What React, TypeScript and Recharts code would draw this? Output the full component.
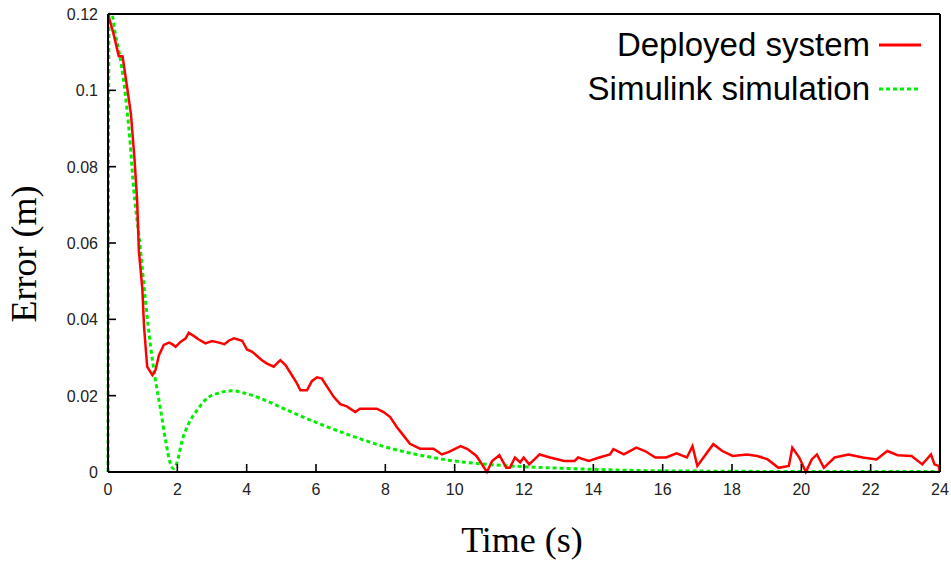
import { LineChart, Line, XAxis, YAxis } from "recharts";

const timeTicks = [0, 2, 4, 6, 8, 10, 12, 14, 16, 18, 20, 22, 24];
const errorTicks = [0, 0.02, 0.04, 0.06, 0.08, 0.1, 0.12];
const errorTickLabels = ["0", "0.02", "0.04", "0.06", "0.08", "0.1", "0.12"];
const seriesNames = ["Deployed system", "Simulink simulation"];
const seriesColors = ["#ff0000", "#00ee00"];

const deployedTime = [
  0, 0.16, 0.31, 0.42, 0.55, 0.66, 0.76, 0.84, 0.89, 0.99, 1.04, 1.13, 1.28, 1.37,
  1.47, 1.61, 1.76, 1.85, 1.95, 2.09, 2.24, 2.33, 2.48, 2.62, 2.81, 3.0, 3.2, 3.36,
  3.48, 3.63, 3.87, 4.01, 4.16, 4.3, 4.44, 4.59, 4.78, 4.97, 5.12, 5.26, 5.45, 5.55,
  5.74, 5.88, 6.03, 6.17, 6.31, 6.51, 6.7, 6.89, 7.13, 7.27, 7.47, 7.75, 7.95, 8.14,
  8.33, 8.52, 8.71, 9.0, 9.39, 9.63, 9.82, 10.17, 10.37, 10.63, 10.93, 11.08, 11.29,
  11.49, 11.59, 11.74, 11.89, 11.99, 12.15, 12.45, 12.75, 13.16, 13.46, 13.56, 13.87,
  14.17, 14.48, 14.58, 14.88, 15.24, 15.49, 15.79, 16.1, 16.4, 16.7, 16.86, 17.0,
  17.21, 17.46, 17.72, 18.02, 18.43, 18.73, 19.03, 19.34, 19.64, 19.74, 19.94, 20.13,
  20.3, 20.45, 20.65, 20.96, 21.36, 21.77, 22.17, 22.48, 22.78, 23.18, 23.49, 23.74,
  23.84, 23.96, 24,
];
const deployedError = [
  0.12, 0.1148, 0.109, 0.1089, 0.1009, 0.0939, 0.0826, 0.0713, 0.058, 0.048, 0.038,
  0.0276, 0.0254, 0.0267, 0.0306, 0.0333, 0.0339, 0.0335, 0.0328, 0.0341, 0.035,
  0.0365, 0.0356, 0.0347, 0.0337, 0.0343, 0.0339, 0.0335, 0.0344, 0.035, 0.0344,
  0.0321, 0.0315, 0.0304, 0.0293, 0.0284, 0.0276, 0.0293, 0.028, 0.026, 0.0232,
  0.0214, 0.0214, 0.0238, 0.0248, 0.0245, 0.0225, 0.0197, 0.0178, 0.0172, 0.0157,
  0.0166, 0.0166, 0.0166, 0.0157, 0.0144, 0.0118, 0.0096, 0.0074, 0.0061, 0.0061,
  0.0046, 0.0052, 0.0068, 0.006, 0.0042, 0.0, 0.0029, 0.0044, 0.0011, 0.0011, 0.0038,
  0.0025, 0.0038, 0.002, 0.0046, 0.0038, 0.0029, 0.0029, 0.0038, 0.0029, 0.0038,
  0.0046, 0.006, 0.0046, 0.0064, 0.0055, 0.0038, 0.0038, 0.0049, 0.0038, 0.0068,
  0.0016, 0.0042, 0.0073, 0.0055, 0.0042, 0.0046, 0.0042, 0.0033, 0.0011, 0.0016,
  0.0064, 0.0038, 0.0, 0.0033, 0.0046, 0.0011, 0.0038, 0.0046, 0.0038, 0.0033,
  0.0055, 0.0044, 0.0042, 0.002, 0.0046, 0.002, 0.0016, 0.0,
];

const simTime = [
  0, 0.03, 0.12, 0.21, 0.33, 0.45, 0.55, 0.64, 0.72, 0.94, 1.08, 1.23, 1.37, 1.52,
  1.66, 1.8, 1.88, 1.98, 2.14, 2.33, 2.57, 2.86, 3.2, 3.58, 3.92, 4.4, 5.07, 6.03,
  6.99, 7.95, 8.9, 9.82, 10.93, 12, 14, 16, 18, 20, 22, 24,
];
const simError = [
  0, 0.12, 0.1196, 0.1148, 0.1096, 0.1026, 0.0948, 0.0861, 0.0765, 0.058, 0.045,
  0.0328, 0.024, 0.0162, 0.0083, 0.0022, 0.0009, 0.0022, 0.0083, 0.0127, 0.0162,
  0.0193, 0.0207, 0.0213, 0.0207, 0.0193, 0.0166, 0.0129, 0.0096, 0.0067, 0.0046,
  0.0031, 0.002, 0.0014, 0.0007, 0.0003, 0.0002, 0.0001, 0.0001, 0.0001,
];

const deployed = deployedTime.map((t, i) => ({ t, v: deployedError[i] }));
const simulation = simTime.map((t, i) => ({ t, v: simError[i] }));

const TICK_LEN = 8;
const TICK_W = 1.6;
const labelFont = "Liberation Sans, Arial, sans-serif";
const titleFont = "Liberation Serif, Times New Roman, serif";
const frame = { stroke: "#000", strokeWidth: 2 };

const errorLabel = (v: number) => {
  const idx = errorTicks.indexOf(v);
  return idx >= 0 ? errorTickLabels[idx] : String(v);
};

// gnuplot draws the tick marks inward, labels stay outside the frame
const BottomTick = ({ x, y, payload }: any) => (
  <g>
    <rect x={x - TICK_W / 2} y={y - TICK_LEN} width={TICK_W} height={TICK_LEN} fill="#000" />
    <text x={x} y={y + 23} textAnchor="middle" fontFamily={labelFont} fontSize={16} fill="#222">
      {payload.value}
    </text>
  </g>
);

const TopTick = ({ x, y }: any) => (
  <rect x={x - TICK_W / 2} y={y} width={TICK_W} height={TICK_LEN} fill="#000" />
);

const LeftTick = ({ x, y, payload }: any) => (
  <g>
    <rect x={x} y={y - TICK_W / 2} width={TICK_LEN} height={TICK_W} fill="#000" />
    <text x={x - 10} y={y + 6} textAnchor="end" fontFamily={labelFont} fontSize={16} fill="#222">
      {errorLabel(payload.value)}
    </text>
  </g>
);

const RightTick = ({ x, y }: any) => (
  <rect x={x - TICK_LEN} y={y - TICK_W / 2} width={TICK_LEN} height={TICK_W} fill="#000" />
);

const YTitle = ({ viewBox }: any) => {
  const cx = viewBox.x + 36;
  const cy = viewBox.y + viewBox.height / 2 + 11;
  return (
    <text x={cx} y={cy} transform={`rotate(-90 ${cx} ${cy})`} textAnchor="middle"
      fontFamily={titleFont} fontSize={36} fill="#000">
      Error (m)
    </text>
  );
};

const XTitle = ({ viewBox }: any) => (
  <text x={viewBox.x + viewBox.width / 2 - 2} y={viewBox.y + 80} textAnchor="middle"
    fontFamily={titleFont} fontSize={36} fill="#000">
    Time (s)
  </text>
);

// key in the top right corner of the plot
const KeyBox = ({ viewBox }: any) => {
  const right = viewBox.x + viewBox.width;
  return (
    <g>
      {seriesNames.map((name, i) => (
        <g key={name}>
          <text x={right - 70} y={viewBox.y + 43 + i * 44} textAnchor="end"
            fontFamily={labelFont} fontSize={33} fill="#000">
            {name}
          </text>
          <line x1={right - 61} x2={right - 19} y1={viewBox.y + 32 + i * 44} y2={viewBox.y + 32 + i * 44}
            stroke={seriesColors[i]} strokeWidth={3} strokeDasharray={i === 1 ? "4 3" : undefined} />
        </g>
      ))}
    </g>
  );
};

export default function App() {
  return (
    <div style={{ position: "absolute", left: 0, top: 0, background: "#fff" }}>
      <LineChart width={951} height={562} margin={{ top: 13, right: 10, bottom: 0, left: 0 }}>
        <XAxis
          dataKey="t"
          type="number"
          domain={[0, 24]}
          ticks={timeTicks}
          height={90}
          tickSize={0}
          tickMargin={0}
          tickLine={false}
          tick={<BottomTick />}
          stroke="#000"
          axisLine={frame}
          label={<XTitle />}
        />
        <XAxis
          xAxisId="top"
          orientation="top"
          dataKey="t"
          type="number"
          domain={[0, 24]}
          ticks={timeTicks}
          height={1}
          tickSize={0}
          tickMargin={0}
          tickLine={false}
          tick={<TopTick />}
          stroke="#000"
          axisLine={frame}
          label={<KeyBox />}
        />
        <YAxis
          type="number"
          domain={[0, 0.12]}
          ticks={errorTicks}
          width={108}
          tickSize={0}
          tickMargin={0}
          tickLine={false}
          tick={<LeftTick />}
          stroke="#000"
          axisLine={frame}
          label={<YTitle />}
        />
        <YAxis
          yAxisId="right"
          orientation="right"
          type="number"
          domain={[0, 0.12]}
          ticks={errorTicks}
          width={1}
          tickSize={0}
          tickMargin={0}
          tickLine={false}
          tick={<RightTick />}
          stroke="#000"
          axisLine={frame}
        />
        <Line
          data={simulation}
          dataKey="v"
          name={seriesNames[1]}
          type="monotone"
          stroke={seriesColors[1]}
          strokeWidth={3}
          strokeDasharray="4 3"
          dot={false}
          activeDot={false}
          isAnimationActive={false}
        />
        <Line
          data={deployed}
          dataKey="v"
          name={seriesNames[0]}
          type="linear"
          stroke={seriesColors[0]}
          strokeWidth={2.5}
          dot={false}
          activeDot={false}
          isAnimationActive={false}
        />
      </LineChart>
    </div>
  );
}
